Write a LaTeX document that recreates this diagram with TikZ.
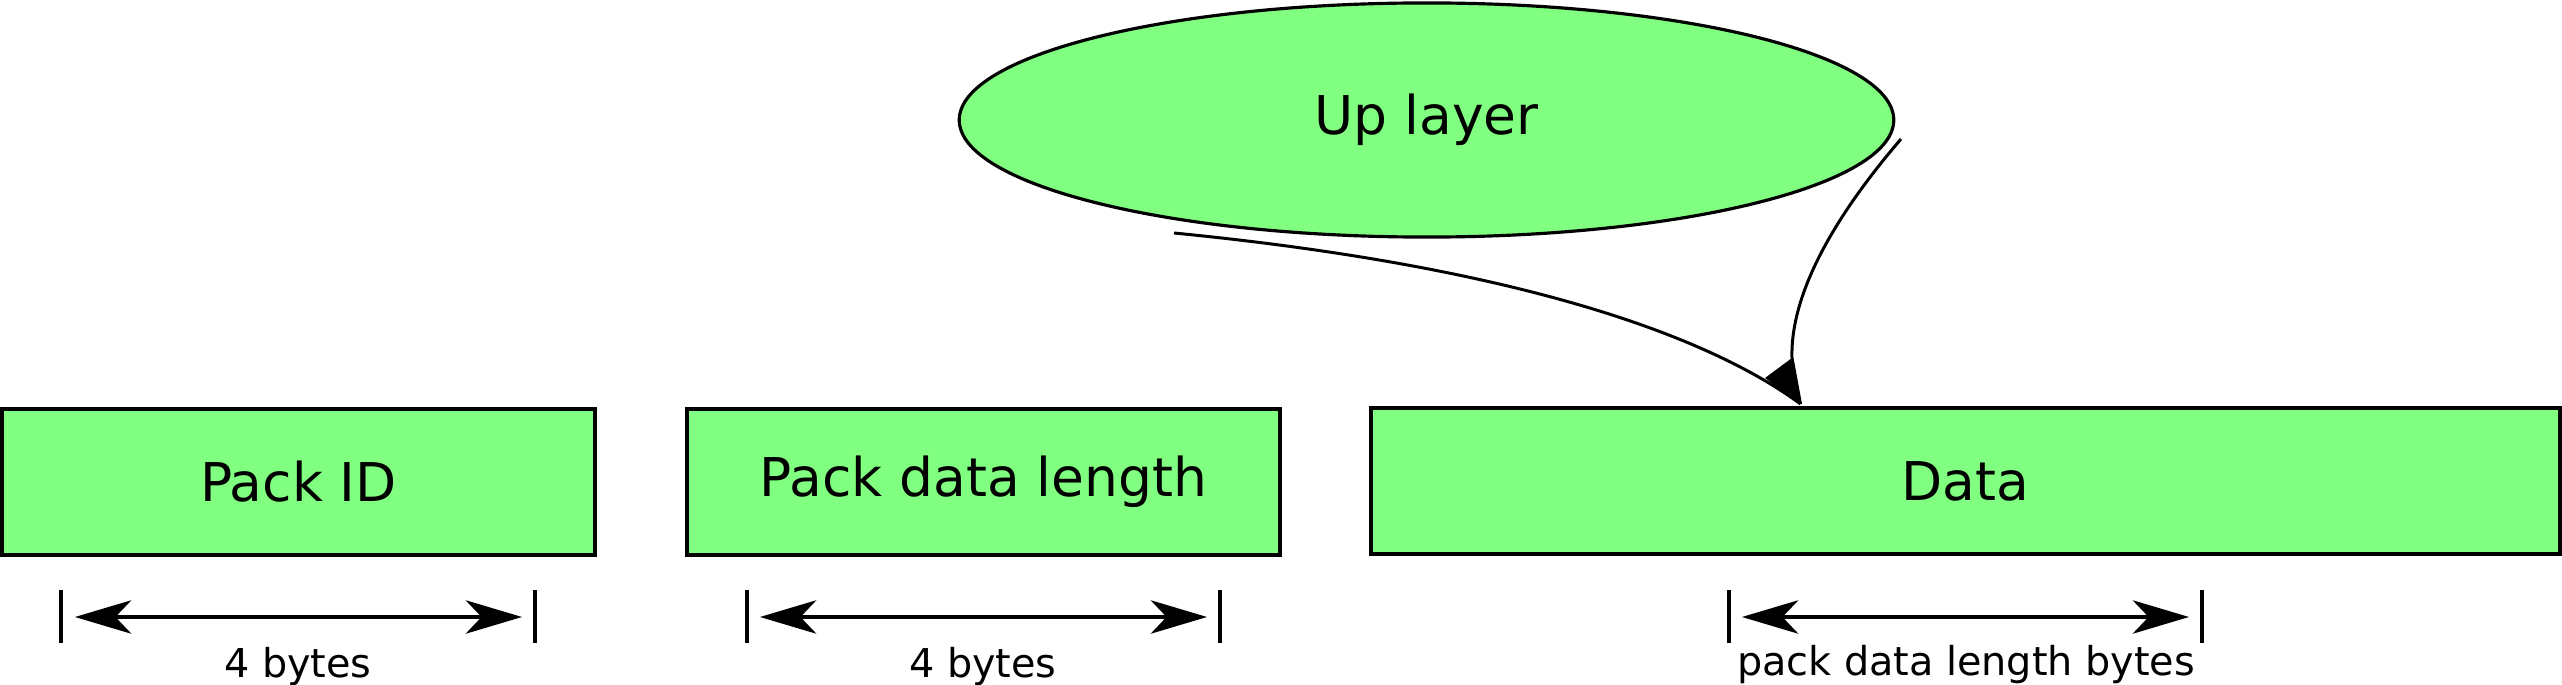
\documentclass[tikz,border=0pt]{standalone}
\usepackage{fontspec}
\setmainfont{DejaVu Sans}
\usetikzlibrary{shapes.geometric,arrows.meta}
\definecolor{boxgreen}{RGB}{128,255,128}
\tikzset{
  fieldbox/.style={draw=black, fill=boxgreen, line width=1pt, rectangle,
    inner sep=0pt, minimum height=1.46cm, font=\fontsize{15.2}{18}\selectfont},
  layerell/.style={draw=black, fill=boxgreen, line width=0.9pt, ellipse,
    inner sep=0pt, minimum width=9.34cm, minimum height=2.34cm, font=\fontsize{15.2}{18}\selectfont},
  dimline/.style={line width=0.9pt, {Stealth[length=16pt,width=9.5pt,inset=4.5pt]}-{Stealth[length=16pt,width=9.5pt,inset=4.5pt]}},
  tickline/.style={line width=1pt},
  dimlabel/.style={anchor=base, inner sep=0pt, font=\fontsize{11.3}{13}\selectfont},
  callout/.style={line width=0.85pt}
}
\begin{document}
\begin{tikzpicture}[x=0.01cm, y=-0.01cm]
\useasboundingbox (0,0) rectangle (2562,685);
% ellipse
\node[layerell] (up) at (1426.5,120) {Up layer};
% boxes
\node[fieldbox, minimum width=5.93cm] (pid) at (298.5,482) {Pack ID};
\node[fieldbox, minimum width=5.93cm] (plen) at (983.5,482) {Pack data length};
\node[fieldbox, minimum width=11.88cm] (data) at (1965.5,481) {Data};
% callout connector
\coordinate (cl) at (1174,233);
\coordinate (cr) at (1901,139);
\coordinate (cm) at (1792,358);
\coordinate (cb) at (1765,378);
\coordinate (tip) at (1800.5,404);
\draw[callout] (cl) .. controls (1500,265) and (1700,330) .. (tip);
\draw[callout] (cr) .. controls (1840,210) and (1790,290) .. (cm) -- (tip);
\fill[black] (cb) -- (cm) -- (tip) -- cycle;
% dimension 1
\coordinate (t1a) at (61,590); \coordinate (t1b) at (61,643);
\coordinate (t1c) at (535,590); \coordinate (t1d) at (535,643);
\draw[tickline] (t1a) -- (t1b);
\draw[tickline] (t1c) -- (t1d);
\coordinate (a1l) at (75,617); \coordinate (a1r) at (522,617);
\draw[dimline] (a1l) -- (a1r);
\node[dimlabel] (l1) at (298,677) {4 bytes};
% dimension 2
\coordinate (t2a) at (747,590); \coordinate (t2b) at (747,643);
\coordinate (t2c) at (1220,590); \coordinate (t2d) at (1220,643);
\draw[tickline] (t2a) -- (t2b);
\draw[tickline] (t2c) -- (t2d);
\coordinate (a2l) at (760,617); \coordinate (a2r) at (1207,617);
\draw[dimline] (a2l) -- (a2r);
\node[dimlabel] (l2) at (983,677) {4 bytes};
% dimension 3
\coordinate (t3a) at (1729,590); \coordinate (t3b) at (1729,643);
\coordinate (t3c) at (2202,590); \coordinate (t3d) at (2202,643);
\draw[tickline] (t3a) -- (t3b);
\draw[tickline] (t3c) -- (t3d);
\coordinate (a3l) at (1742,617); \coordinate (a3r) at (2189,617);
\draw[dimline] (a3l) -- (a3r);
\node[dimlabel] (l3) at (1966,675) {pack data length bytes};
\end{tikzpicture}
\end{document}
